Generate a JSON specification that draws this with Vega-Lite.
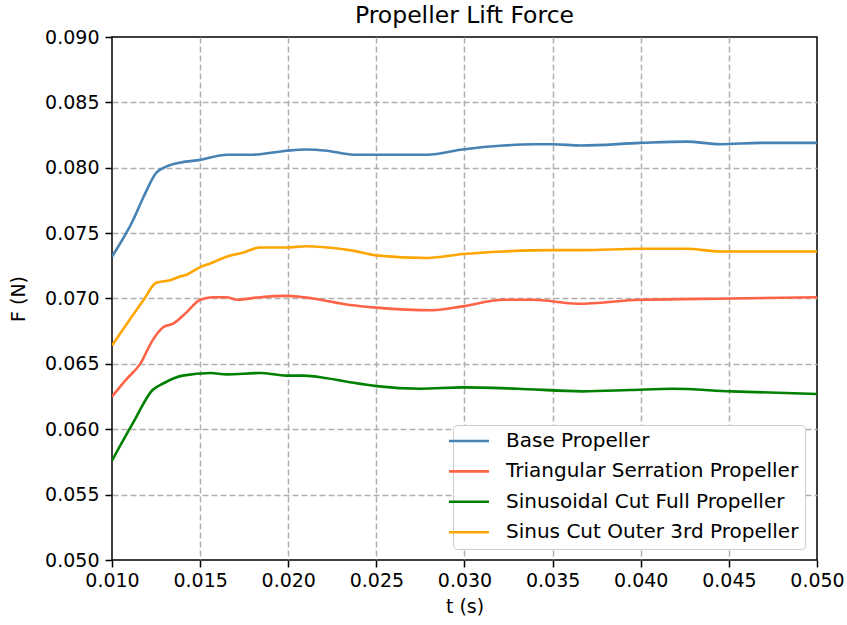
{
  "$schema": "https://vega.github.io/schema/vega-lite/v6.json",
  "autosize": {"type": "none"},
  "width": 705,
  "height": 523,
  "padding": {"left": 112, "top": 37, "right": 30, "bottom": 65},
  "background": "white",
  "title": {"text": "Propeller Lift Force", "fontSize": 23.5, "fontWeight": "normal", "font": "DejaVu Sans", "color": "black", "offset": 1},
  "config": {
    "view": {"stroke": "black", "strokeWidth": 1.5},
    "font": "DejaVu Sans"
  },
  "data": {"values": [
    {"t": 0.0100, "F": 0.0732, "s": "Base Propeller"},
    {"t": 0.0112, "F": 0.0760, "s": "Base Propeller"},
    {"t": 0.0118, "F": 0.0778, "s": "Base Propeller"},
    {"t": 0.0125, "F": 0.0796, "s": "Base Propeller"},
    {"t": 0.0131, "F": 0.0801, "s": "Base Propeller"},
    {"t": 0.0139, "F": 0.0804, "s": "Base Propeller"},
    {"t": 0.0150, "F": 0.0806, "s": "Base Propeller"},
    {"t": 0.0165, "F": 0.0810, "s": "Base Propeller"},
    {"t": 0.0174, "F": 0.0810, "s": "Base Propeller"},
    {"t": 0.0180, "F": 0.0810, "s": "Base Propeller"},
    {"t": 0.0199, "F": 0.0813, "s": "Base Propeller"},
    {"t": 0.0210, "F": 0.0814, "s": "Base Propeller"},
    {"t": 0.0222, "F": 0.0813, "s": "Base Propeller"},
    {"t": 0.0237, "F": 0.0810, "s": "Base Propeller"},
    {"t": 0.0250, "F": 0.0810, "s": "Base Propeller"},
    {"t": 0.0279, "F": 0.0810, "s": "Base Propeller"},
    {"t": 0.0299, "F": 0.0814, "s": "Base Propeller"},
    {"t": 0.0322, "F": 0.0817, "s": "Base Propeller"},
    {"t": 0.0339, "F": 0.0818, "s": "Base Propeller"},
    {"t": 0.0350, "F": 0.0818, "s": "Base Propeller"},
    {"t": 0.0366, "F": 0.0817, "s": "Base Propeller"},
    {"t": 0.0400, "F": 0.0819, "s": "Base Propeller"},
    {"t": 0.0426, "F": 0.0820, "s": "Base Propeller"},
    {"t": 0.0445, "F": 0.0818, "s": "Base Propeller"},
    {"t": 0.0468, "F": 0.0819, "s": "Base Propeller"},
    {"t": 0.0500, "F": 0.0819, "s": "Base Propeller"},

    {"t": 0.0100, "F": 0.0625, "s": "Triangular Serration Propeller"},
    {"t": 0.0108, "F": 0.0638, "s": "Triangular Serration Propeller"},
    {"t": 0.0116, "F": 0.0650, "s": "Triangular Serration Propeller"},
    {"t": 0.0123, "F": 0.0668, "s": "Triangular Serration Propeller"},
    {"t": 0.0129, "F": 0.0678, "s": "Triangular Serration Propeller"},
    {"t": 0.0135, "F": 0.0681, "s": "Triangular Serration Propeller"},
    {"t": 0.0142, "F": 0.0689, "s": "Triangular Serration Propeller"},
    {"t": 0.0150, "F": 0.0699, "s": "Triangular Serration Propeller"},
    {"t": 0.0157, "F": 0.0701, "s": "Triangular Serration Propeller"},
    {"t": 0.0165, "F": 0.0701, "s": "Triangular Serration Propeller"},
    {"t": 0.0171, "F": 0.0699, "s": "Triangular Serration Propeller"},
    {"t": 0.0184, "F": 0.0701, "s": "Triangular Serration Propeller"},
    {"t": 0.0199, "F": 0.0702, "s": "Triangular Serration Propeller"},
    {"t": 0.0214, "F": 0.0700, "s": "Triangular Serration Propeller"},
    {"t": 0.0235, "F": 0.0695, "s": "Triangular Serration Propeller"},
    {"t": 0.0250, "F": 0.0693, "s": "Triangular Serration Propeller"},
    {"t": 0.0282, "F": 0.0691, "s": "Triangular Serration Propeller"},
    {"t": 0.0299, "F": 0.0694, "s": "Triangular Serration Propeller"},
    {"t": 0.0322, "F": 0.0699, "s": "Triangular Serration Propeller"},
    {"t": 0.0339, "F": 0.0699, "s": "Triangular Serration Propeller"},
    {"t": 0.0364, "F": 0.0696, "s": "Triangular Serration Propeller"},
    {"t": 0.0400, "F": 0.0699, "s": "Triangular Serration Propeller"},
    {"t": 0.0451, "F": 0.0700, "s": "Triangular Serration Propeller"},
    {"t": 0.0500, "F": 0.0701, "s": "Triangular Serration Propeller"},

    {"t": 0.0100, "F": 0.0576, "s": "Sinusoidal Cut Full Propeller"},
    {"t": 0.0112, "F": 0.0605, "s": "Sinusoidal Cut Full Propeller"},
    {"t": 0.0123, "F": 0.0630, "s": "Sinusoidal Cut Full Propeller"},
    {"t": 0.0129, "F": 0.0635, "s": "Sinusoidal Cut Full Propeller"},
    {"t": 0.0140, "F": 0.0641, "s": "Sinusoidal Cut Full Propeller"},
    {"t": 0.0156, "F": 0.0643, "s": "Sinusoidal Cut Full Propeller"},
    {"t": 0.0165, "F": 0.0642, "s": "Sinusoidal Cut Full Propeller"},
    {"t": 0.0184, "F": 0.0643, "s": "Sinusoidal Cut Full Propeller"},
    {"t": 0.0199, "F": 0.0641, "s": "Sinusoidal Cut Full Propeller"},
    {"t": 0.0209, "F": 0.0641, "s": "Sinusoidal Cut Full Propeller"},
    {"t": 0.0222, "F": 0.0639, "s": "Sinusoidal Cut Full Propeller"},
    {"t": 0.0235, "F": 0.0636, "s": "Sinusoidal Cut Full Propeller"},
    {"t": 0.0250, "F": 0.0633, "s": "Sinusoidal Cut Full Propeller"},
    {"t": 0.0275, "F": 0.0631, "s": "Sinusoidal Cut Full Propeller"},
    {"t": 0.0299, "F": 0.0632, "s": "Sinusoidal Cut Full Propeller"},
    {"t": 0.0330, "F": 0.0631, "s": "Sinusoidal Cut Full Propeller"},
    {"t": 0.0367, "F": 0.0629, "s": "Sinusoidal Cut Full Propeller"},
    {"t": 0.0394, "F": 0.0630, "s": "Sinusoidal Cut Full Propeller"},
    {"t": 0.0418, "F": 0.0631, "s": "Sinusoidal Cut Full Propeller"},
    {"t": 0.0451, "F": 0.0629, "s": "Sinusoidal Cut Full Propeller"},
    {"t": 0.0500, "F": 0.0627, "s": "Sinusoidal Cut Full Propeller"},

    {"t": 0.0100, "F": 0.0664, "s": "Sinus Cut Outer 3rd Propeller"},
    {"t": 0.0118, "F": 0.0699, "s": "Sinus Cut Outer 3rd Propeller"},
    {"t": 0.0125, "F": 0.0712, "s": "Sinus Cut Outer 3rd Propeller"},
    {"t": 0.0133, "F": 0.0714, "s": "Sinus Cut Outer 3rd Propeller"},
    {"t": 0.0139, "F": 0.0717, "s": "Sinus Cut Outer 3rd Propeller"},
    {"t": 0.0142, "F": 0.0718, "s": "Sinus Cut Outer 3rd Propeller"},
    {"t": 0.0150, "F": 0.0724, "s": "Sinus Cut Outer 3rd Propeller"},
    {"t": 0.0156, "F": 0.0727, "s": "Sinus Cut Outer 3rd Propeller"},
    {"t": 0.0165, "F": 0.0732, "s": "Sinus Cut Outer 3rd Propeller"},
    {"t": 0.0174, "F": 0.0735, "s": "Sinus Cut Outer 3rd Propeller"},
    {"t": 0.0184, "F": 0.0739, "s": "Sinus Cut Outer 3rd Propeller"},
    {"t": 0.0199, "F": 0.0739, "s": "Sinus Cut Outer 3rd Propeller"},
    {"t": 0.0210, "F": 0.0740, "s": "Sinus Cut Outer 3rd Propeller"},
    {"t": 0.0222, "F": 0.0739, "s": "Sinus Cut Outer 3rd Propeller"},
    {"t": 0.0235, "F": 0.0737, "s": "Sinus Cut Outer 3rd Propeller"},
    {"t": 0.0250, "F": 0.0733, "s": "Sinus Cut Outer 3rd Propeller"},
    {"t": 0.0279, "F": 0.0731, "s": "Sinus Cut Outer 3rd Propeller"},
    {"t": 0.0299, "F": 0.0734, "s": "Sinus Cut Outer 3rd Propeller"},
    {"t": 0.0322, "F": 0.0736, "s": "Sinus Cut Outer 3rd Propeller"},
    {"t": 0.0350, "F": 0.0737, "s": "Sinus Cut Outer 3rd Propeller"},
    {"t": 0.0366, "F": 0.0737, "s": "Sinus Cut Outer 3rd Propeller"},
    {"t": 0.0400, "F": 0.0738, "s": "Sinus Cut Outer 3rd Propeller"},
    {"t": 0.0426, "F": 0.0738, "s": "Sinus Cut Outer 3rd Propeller"},
    {"t": 0.0445, "F": 0.0736, "s": "Sinus Cut Outer 3rd Propeller"},
    {"t": 0.0500, "F": 0.0736, "s": "Sinus Cut Outer 3rd Propeller"}
  ]},
  "mark": {"type": "line", "strokeWidth": 2.6, "interpolate": "monotone", "clip": true},
  "encoding": {
    "x": {
      "field": "t", "type": "quantitative", "title": "t (s)",
      "scale": {"domain": [0.01, 0.05], "nice": false, "zero": false},
      "axis": {
        "values": [0.01, 0.015, 0.02, 0.025, 0.03, 0.035, 0.04, 0.045, 0.05],
        "format": ".3f", "labelFontSize": 19, "labelColor": "black", "labelFont": "DejaVu Sans",
        "titleFontSize": 19, "titleFontWeight": "normal", "titleColor": "black", "titleFont": "DejaVu Sans", "titlePadding": 7,
        "domain": false, "tickColor": "black", "tickSize": 7, "tickWidth": 1.5, "labelPadding": 4,
        "grid": true, "gridColor": "#b0b0b0", "gridDash": [6, 3], "gridWidth": 1.5, "labelFlush": false,
        "gridOpacity": {"condition": {"test": "datum.value <= 0.0101 || datum.value >= 0.0499", "value": 0}, "value": 1}
      }
    },
    "y": {
      "field": "F", "type": "quantitative", "title": "F (N)",
      "scale": {"domain": [0.05, 0.09], "nice": false, "zero": false},
      "axis": {
        "values": [0.05, 0.055, 0.06, 0.065, 0.07, 0.075, 0.08, 0.085, 0.09],
        "format": ".3f", "labelFontSize": 19, "labelColor": "black", "labelFont": "DejaVu Sans",
        "titleFontSize": 19, "titleFontWeight": "normal", "titleColor": "black", "titleFont": "DejaVu Sans", "titlePadding": 16,
        "domain": false, "tickColor": "black", "tickSize": 7, "tickWidth": 1.5, "labelPadding": 6,
        "grid": true, "gridColor": "#b0b0b0", "gridDash": [6, 3], "gridWidth": 1.5, "labelFlush": false,
        "gridOpacity": {"condition": {"test": "datum.value <= 0.0501 || datum.value >= 0.0899", "value": 0}, "value": 1}
      }
    },
    "color": {
      "field": "s", "type": "nominal", "title": null,
      "sort": ["Base Propeller", "Triangular Serration Propeller", "Sinusoidal Cut Full Propeller", "Sinus Cut Outer 3rd Propeller"],
      "scale": {
        "domain": ["Base Propeller", "Triangular Serration Propeller", "Sinusoidal Cut Full Propeller", "Sinus Cut Outer 3rd Propeller"],
        "range": ["#4682b4", "#ff6347", "#008000", "#ffa500"]
      },
      "legend": {
        "orient": "none", "legendX": 341, "legendY": 388,
        "symbolType": "M-4,0H4", "symbolSize": 100, "symbolStrokeWidth": 2.6,
        "labelFontSize": 20, "labelFont": "DejaVu Sans", "labelColor": "black",
        "rowPadding": 10.4, "labelOffset": 27,
        "fillColor": "white", "strokeColor": "#cccccc", "cornerRadius": 4, "padding": 6,
        "labelLimit": 400
      }
    }
  }
}
